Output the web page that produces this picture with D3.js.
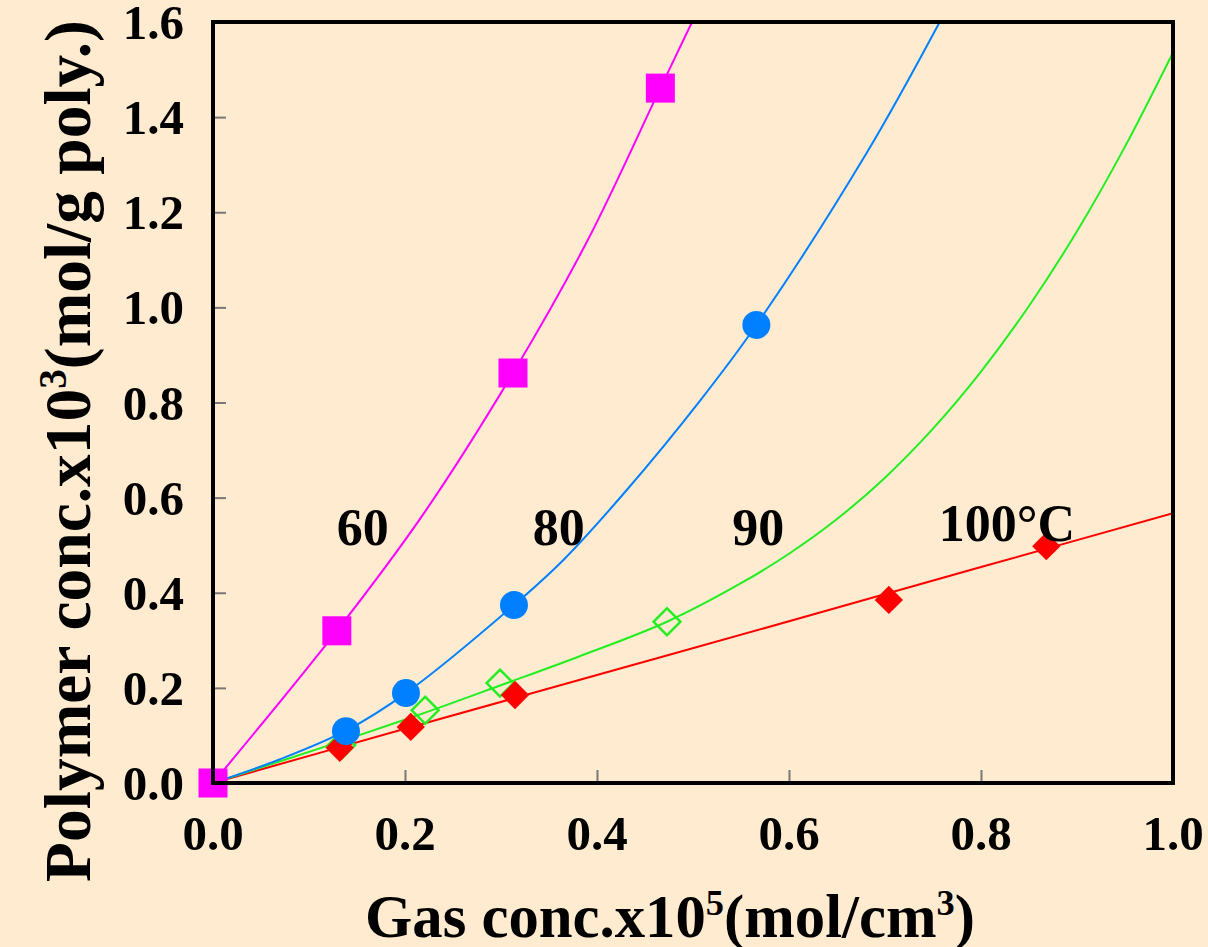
<!DOCTYPE html>
<html><head><meta charset="utf-8">
<script src="https://cdn.jsdelivr.net/npm/d3@7"></script>
<style>
html,body{margin:0;padding:0;background:#FFEBCF;}
svg{display:block;}
text{font-family:"Liberation Serif","Times New Roman",serif;font-weight:bold;fill:#000;}
</style></head>
<body>
<svg id="chart" width="1208" height="947"></svg>
<script>
// ---- data ----
const xTicks = [0.0, 0.2, 0.4, 0.6, 0.8, 1.0];
const yTicks = [0.0, 0.2, 0.4, 0.6, 0.8, 1.0, 1.2, 1.4, 1.6];

// measured points
const pts60  = [[0,0],[0.129,0.32],[0.3125,0.862],[0.466,1.461]];
const pts80  = [[0.1385,0.109],[0.201,0.189],[0.3135,0.374],[0.566,0.963]];
const pts90  = [[0.134,0.08],[0.221,0.153],[0.299,0.21],[0.4729,0.339]];
const pts100 = [[0.132,0.074],[0.206,0.118],[0.3146,0.185],[0.704,0.385],[0.868,0.498]];

// fitted curves
const fit60  = [[0,0],[0.129,0.32],[0.22,0.568],[0.3125,0.862],[0.39,1.14],[0.466,1.461],[0.499,1.6]];
const fit80  = [[0,0],[0.07,0.05],[0.1385,0.11],[0.201,0.189],[0.3135,0.374],[0.365,0.469],[0.431,0.616],[0.507,0.803],[0.566,0.963],[0.681,1.325],[0.757,1.6]];
const fit90  = [[0,0],[0.134,0.088],[0.221,0.148],[0.299,0.205],[0.38,0.265],[0.4729,0.339],[0.55,0.42],[0.6,0.482],[0.65,0.555],[0.7,0.642],[0.75,0.745],[0.8,0.865],[0.85,1.003],[0.9,1.16],[0.95,1.338],[1.0,1.536]];
const fit100 = [[0,0],[0.2,0.114],[0.4,0.227],[0.6,0.34],[0.8,0.454],[1.0,0.567]];

const seriesLabels = [
  {text:"60",   x:0.129, y:0.50},
  {text:"80",   x:0.333, y:0.50},
  {text:"90",   x:0.541, y:0.50},
  {text:"100°C",x:0.756, y:0.508}
];

const xTitle = [["Gas conc.x10",false],["5",true],["(mol/cm",false],["3",true],[")",false]];
const yTitle = [["Polymer conc.x10",false],["3",true],["(mol/g poly.)",false]];

// ---- chart ----
const svg = d3.select("#chart");
const W = 1208, H = 947;
svg.append("rect").attr("width",W).attr("height",H).attr("fill","#FFEBCF");

const x = d3.scaleLinear().domain([0,1]).range([213,1173]);
const y = d3.scaleLinear().domain([0,1.6]).range([783,22]);

svg.append("defs").append("clipPath").attr("id","clip")
  .append("rect").attr("x",213).attr("y",22).attr("width",960).attr("height",761);

// x ticks (inward, gray)
const xAxis = d3.axisTop(x).tickValues(xTicks).tickSize(13).tickFormat("");
svg.append("g").attr("transform","translate(0,783)").call(xAxis)
  .call(g=>g.select(".domain").remove())
  .call(g=>g.selectAll("line").attr("stroke","#777").attr("stroke-width",2));
const yAxis = d3.axisRight(y).tickValues(yTicks).tickSize(13).tickFormat("");
svg.append("g").attr("transform","translate(213,0)").call(yAxis)
  .call(g=>g.select(".domain").remove())
  .call(g=>g.selectAll("line").attr("stroke","#777").attr("stroke-width",2));

// tick labels
svg.append("g").selectAll("text").data(xTicks).join("text")
  .attr("x",d=>x(d)).attr("y",850).attr("text-anchor","middle")
  .style("font-size","49px").text(d=>d.toFixed(1));
svg.append("g").selectAll("text").data(yTicks).join("text")
  .attr("x",184).attr("y",d=>y(d)+17).attr("text-anchor","end")
  .style("font-size","49px").text(d=>d.toFixed(1));

const line = d3.line().x(d=>x(d[0])).y(d=>y(d[1])).curve(d3.curveCatmullRom.alpha(0.5));
const curves = svg.append("g").attr("clip-path","url(#clip)");
const drawFit = (data,color)=>curves.append("path").datum(data)
  .attr("d",line).attr("fill","none").attr("stroke",color).attr("stroke-width",2);
drawFit(fit100,"#FF0000");
drawFit(fit90,"#22EE22");
drawFit(fit80,"#0080FF");
drawFit(fit60,"#FF00FF");

// markers
const mk = svg.append("g");
mk.selectAll(".d90").data(pts90).join("rect").attr("class","d90")
  .attr("x",-9.5).attr("y",-9.5).attr("width",19).attr("height",19)
  .attr("transform",d=>`translate(${x(d[0])},${y(d[1])}) rotate(45)`)
  .attr("fill","none").attr("stroke","#22EE22").attr("stroke-width",2.5);
mk.selectAll(".d100").data(pts100).join("rect").attr("class","d100")
  .attr("x",-10).attr("y",-10).attr("width",20).attr("height",20)
  .attr("transform",d=>`translate(${x(d[0])},${y(d[1])}) rotate(45)`)
  .attr("fill","#FF0000");
mk.selectAll(".c80").data(pts80).join("circle").attr("class","c80")
  .attr("cx",d=>x(d[0])).attr("cy",d=>y(d[1])).attr("r",14).attr("fill","#0080FF");
mk.selectAll(".s60").data(pts60).join("rect").attr("class","s60")
  .attr("x",d=>x(d[0])-14.5).attr("y",d=>y(d[1])-14.5).attr("width",29).attr("height",29)
  .attr("fill","#FF00FF");

// frame
svg.append("rect").attr("x",213).attr("y",22).attr("width",960).attr("height",761)
  .attr("fill","none").attr("stroke","#000").attr("stroke-width",4);

// series labels
svg.append("g").selectAll("text").data(seriesLabels).join("text")
  .attr("x",d=>x(d.x)).attr("y",d=>y(d.y)).style("font-size","52px").text(d=>d.text);

// axis titles, sized to a target length
function title(parts, transform, targetLen){
  const t = svg.append("text").attr("transform",transform).attr("text-anchor","middle");
  const build = s=>{
    t.selectAll("tspan").remove();
    parts.forEach(([txt,sup],i)=>{
      const sp = t.append("tspan").text(txt);
      if(sup){ sp.attr("dy",-0.36*s).style("font-size",(0.6*s)+"px"); }
      else { sp.style("font-size",s+"px"); if(i>0) sp.attr("dy",0.36*s); }
    });
  };
  build(60);
  const w = t.node().getBBox().width;
  build(60*targetLen/w);
}
title(xTitle,"translate(670,937)",610);
title(yTitle,"translate(90,451) rotate(-90)",862);
</script>
</body></html>
